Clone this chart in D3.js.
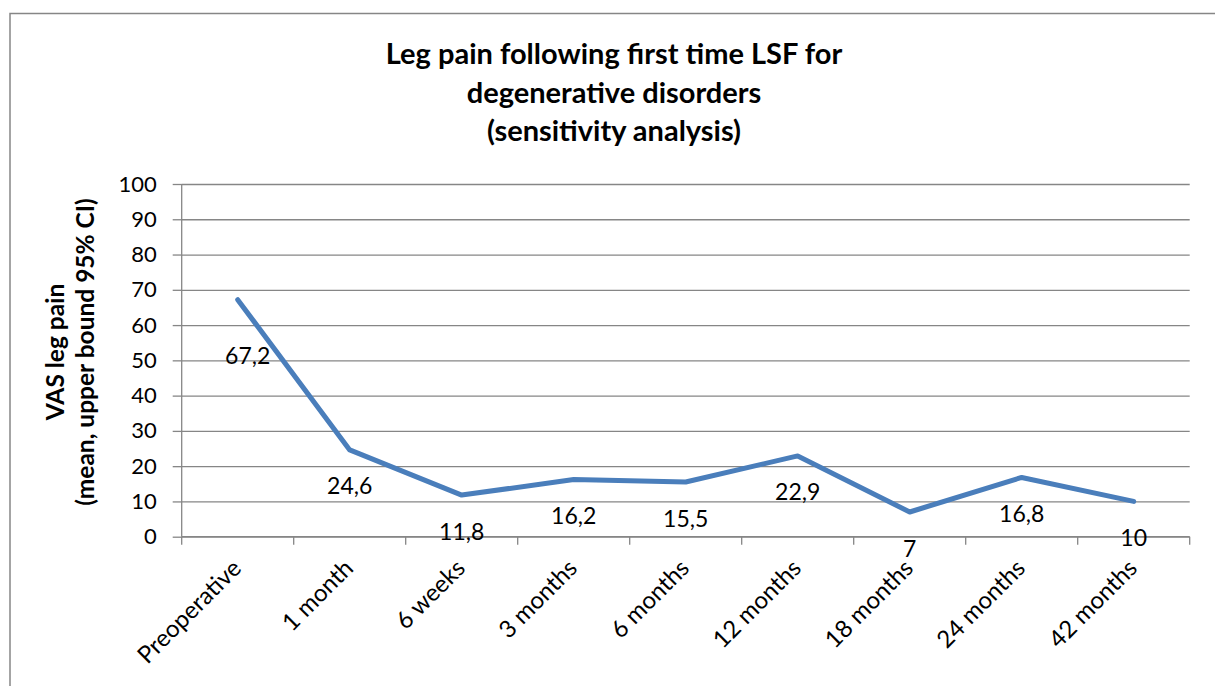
<!DOCTYPE html>
<html lang="en">
  <head>
    <meta charset="UTF-8" />
    <title>Leg pain following first time LSF</title>
    <script src="https://d3js.org/d3.v7.min.js"></script>
    <style>
      body {
        margin: 0;
        background: #fff;
        font-family: Lato, "Open Sans", sans-serif;
      }
      svg text {
        fill: #000;
      }
      .grid line,
      .axis line,
      .axis path {
        stroke: #868686;
        stroke-width: 1.3px;
      }
      .title {
        font-weight: bold;
        font-size: 29px;
      }
      .ytitle {
        font-weight: bold;
        font-size: 24.5px;
      }
      .axis text {
        font-size: 22px;
        font-family: Lato, sans-serif;
      }
      .axis text.cat {
        font-size: 24px;
      }
      .labels text {
        font-size: 23px;
      }
    </style>
  </head>
  <body>
    <svg width="1215" height="686"></svg>

    <script>
      // datos
      const categories = [
        "Preoperative",
        "1 month",
        "6 weeks",
        "3 months",
        "6 months",
        "12 months",
        "18 months",
        "24 months",
        "42 months",
      ];
      const values = [67.2, 24.6, 11.8, 16.2, 15.5, 22.9, 7, 16.8, 10];
      const yTicks = [0, 10, 20, 30, 40, 50, 60, 70, 80, 90, 100];
      const titleLines = [
        "Leg pain following first time LSF for",
        "degenerative disorders",
        "(sensitivity analysis)",
      ];
      const yTitleLines = ["VAS leg pain", "(mean, upper bound 95% CI)"];

      // la etiqueta del primer punto esta movida a mano en el original
      const labelNudge = { Preoperative: [10, 20] };

      const svg = d3.select("svg");
      const plotLeft = 181.7,
        plotRight = 1189.7,
        plotTop = 184,
        plotBottom = 536.7;

      // marco exterior del grafico (sale por la derecha y por abajo)
      svg
        .append("rect")
        .attr("x", 10)
        .attr("y", 13.5)
        .attr("width", 1300)
        .attr("height", 800)
        .attr("fill", "none")
        .attr("stroke", "#868686")
        .attr("stroke-width", 1.5);

      const x = d3.scaleBand().domain(categories).range([plotLeft, plotRight]);
      const xEdge = d3
        .scaleLinear()
        .domain([0, categories.length])
        .range([plotLeft, plotRight]);
      const y = d3.scaleLinear().domain([0, 100]).range([plotBottom, plotTop]);

      // lineas de cuadricula
      svg
        .append("g")
        .attr("class", "grid")
        .attr("transform", `translate(${plotLeft},0)`)
        .call(
          d3
            .axisLeft(y)
            .tickValues(yTicks)
            .tickSize(-(plotRight - plotLeft))
            .tickFormat("")
        )
        .call((g) => g.select(".domain").remove());

      // eje Y con marcas y etiquetas
      svg
        .append("g")
        .attr("class", "axis")
        .attr("transform", `translate(${plotLeft},0)`)
        .call(d3.axisLeft(y).tickValues(yTicks).tickSize(9).tickPadding(16))
        .call((g) =>
          g.select(".domain").attr("d", `M0,${plotTop}V${plotBottom}`)
        );

      // eje X: marcas en los bordes de cada categoria
      const xAxis = svg
        .append("g")
        .attr("class", "axis")
        .attr("transform", `translate(0,${plotBottom})`);
      xAxis
        .append("path")
        .attr("d", `M${plotLeft},0H${plotRight}`)
        .attr("fill", "none");
      xAxis
        .selectAll("line.edge")
        .data(d3.range(categories.length + 1))
        .enter()
        .append("line")
        .attr("class", "edge")
        .attr("x1", (d) => xEdge(d))
        .attr("x2", (d) => xEdge(d))
        .attr("y1", 0)
        .attr("y2", 8);
      xAxis
        .selectAll("text.cat")
        .data(categories)
        .enter()
        .append("text")
        .attr("class", "cat")
        .attr("text-anchor", "end")
        .attr(
          "transform",
          (d) => `translate(${x(d) + x.bandwidth() / 2 + 5},${33}) rotate(-45)`
        )
        .text((d) => d);

      // linea de la serie
      const line = d3
        .line()
        .x((d, i) => x(categories[i]) + x.bandwidth() / 2)
        .y((d) => y(d));

      svg
        .append("path")
        .datum(values)
        .attr("fill", "none")
        .attr("stroke", "#4a7ebb")
        .attr("stroke-width", 5)
        .attr("stroke-linejoin", "round")
        .attr("stroke-linecap", "round")
        .attr("d", line);

      // etiquetas de valores (coma decimal)
      svg
        .append("g")
        .attr("class", "labels")
        .selectAll("text")
        .data(values)
        .enter()
        .append("text")
        .attr("text-anchor", "middle")
        .attr("dy", "0.35em")
        .attr("x", (d, i) => {
          const n = labelNudge[categories[i]] || [0, 0];
          return x(categories[i]) + x.bandwidth() / 2 + n[0];
        })
        .attr("y", (d, i) => {
          const n = labelNudge[categories[i]] || [0, 0];
          return y(d) + 36.5 + n[1];
        })
        .text((d) => String(d).replace(".", ","));

      // titulo
      svg
        .append("text")
        .attr("class", "title")
        .attr("text-anchor", "middle")
        .selectAll("tspan")
        .data(titleLines)
        .enter()
        .append("tspan")
        .attr("x", 614)
        .attr("y", (d, i) => 64 + i * 38.5)
        .text((d) => d);

      // titulo del eje Y
      svg
        .append("text")
        .attr("class", "ytitle")
        .attr("text-anchor", "middle")
        .attr("transform", "translate(0,352) rotate(-90)")
        .selectAll("tspan")
        .data(yTitleLines)
        .enter()
        .append("tspan")
        .attr("x", 0)
        .attr("y", (d, i) => 64 + i * 30)
        .text((d) => d);
    </script>
  </body>
</html>
